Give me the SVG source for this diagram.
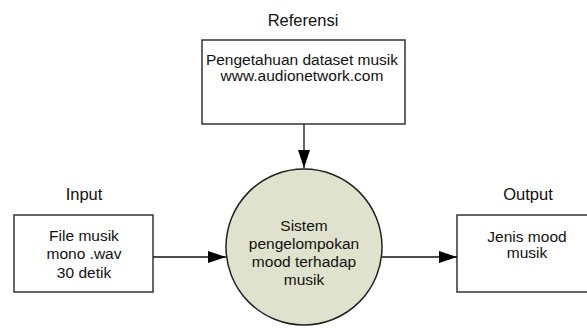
<svg xmlns="http://www.w3.org/2000/svg" width="587" height="328" viewBox="0 0 587 328">
<defs>
<style>
text{font-family:"Liberation Sans",Arial,sans-serif;fill:#111;text-anchor:middle}
.lbl{font-size:16.5px}
.body{font-size:15.5px}
.box{fill:#fff;stroke:#333;stroke-width:1.5}
.edge{stroke:#111;stroke-width:1.3;fill:none}
</style>
<marker id="arr" viewBox="0 0 18 12" refX="18" refY="6" markerWidth="18" markerHeight="12" markerUnits="userSpaceOnUse" orient="auto">
<path d="M0,0 L18,6 L0,12 Z" fill="#000"/>
</marker>
</defs>
<rect width="587" height="328" fill="#fff"/>
<g id="label-referensi"><text class="lbl" x="303" y="26">Referensi</text></g>
<g id="label-input"><text class="lbl" x="84" y="200">Input</text></g>
<g id="label-output"><text class="lbl" x="528" y="200">Output</text></g>
<g id="referensi">
<rect class="box" x="202" y="40" width="203" height="84"/>
<text class="body" x="302" y="65">Pengetahuan dataset musik</text>
<text class="body" x="302" y="81">www.audionetwork.com</text>
</g>
<g id="input">
<rect class="box" x="14" y="215" width="139" height="77"/>
<text class="body" x="84" y="240.5">File musik</text>
<text class="body" x="84" y="259.3">mono .wav</text>
<text class="body" x="84" y="278.1">30 detik</text>
</g>
<g id="output">
<rect class="box" x="457" y="215" width="139" height="77"/>
<text class="body" x="527" y="241.5">Jenis mood</text>
<text class="body" x="527" y="257.5">musik</text>
</g>
<g id="sistem">
<circle cx="304" cy="247" r="78" fill="#dfe2cc" stroke="#222" stroke-width="1.5"/>
<text class="body" x="304" y="231">Sistem</text>
<text class="body" x="304" y="249">pengelompokan</text>
<text class="body" x="304" y="267">mood terhadap</text>
<text class="body" x="304" y="285">musik</text>
</g>
<g id="connectors">
<line class="edge" x1="304" y1="124" x2="304" y2="168" marker-end="url(#arr)"/>
<line class="edge" x1="153" y1="257" x2="226" y2="257" marker-end="url(#arr)"/>
<line class="edge" x1="382" y1="257" x2="457" y2="257" marker-end="url(#arr)"/>
</g>
</svg>
